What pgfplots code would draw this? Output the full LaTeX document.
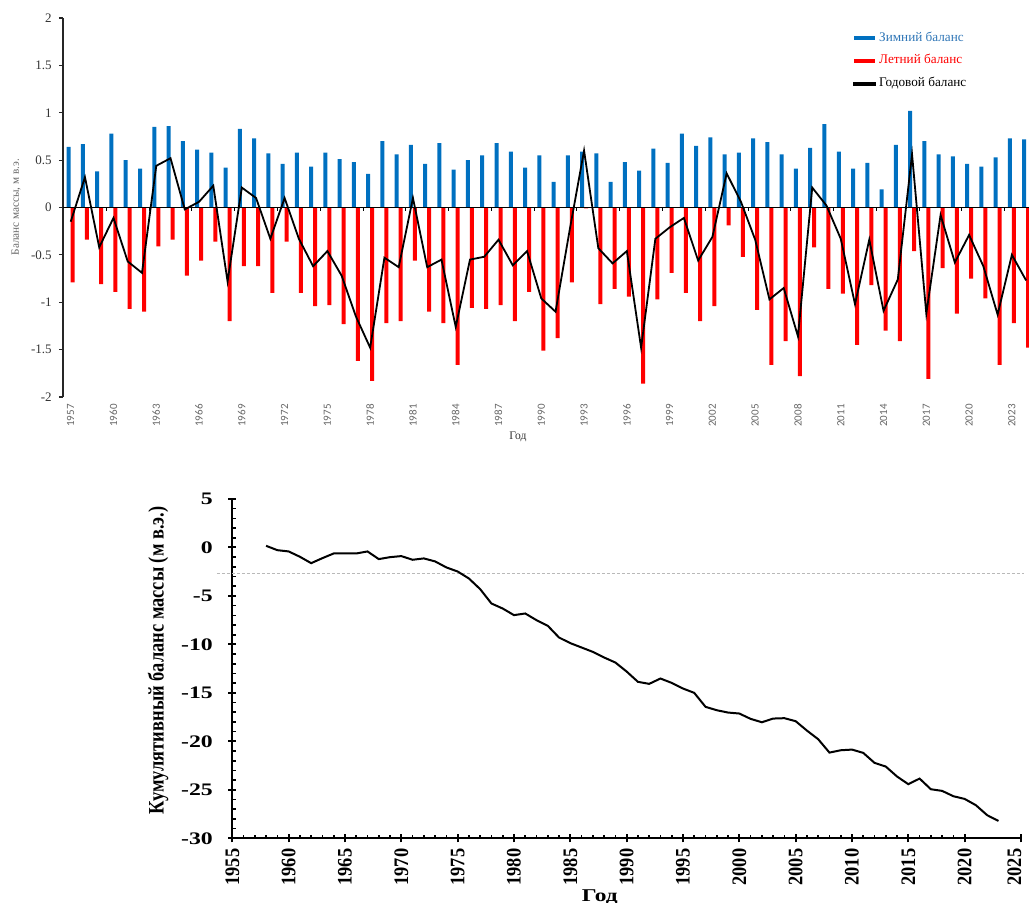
\documentclass[border=0pt]{standalone}
\usepackage{pgfplots}
\pgfplotsset{compat=1.18}
\usepackage{pgfplotstable}
\usepackage{fontspec}
\setmainfont{Liberation Serif}
\newfontfamily\carlito{Carlito}
\definecolor{wblue}{RGB}{0,112,192}
\definecolor{wbluet}{RGB}{46,117,182}
\definecolor{sred}{RGB}{255,0,0}

\pgfplotstableread{
year winter summer annual
1957 0.64 -0.79 -0.15
1958 0.67 -0.34 0.32
1959 0.38 -0.81 -0.42
1960 0.78 -0.89 -0.11
1961 0.50 -1.07 -0.57
1962 0.41 -1.10 -0.69
1963 0.85 -0.41 0.44
1964 0.86 -0.34 0.52
1965 0.70 -0.72 -0.02
1966 0.61 -0.56 0.06
1967 0.58 -0.36 0.23
1968 0.42 -1.20 -0.78
1969 0.83 -0.62 0.21
1970 0.73 -0.62 0.10
1971 0.57 -0.90 -0.33
1972 0.46 -0.36 0.10
1973 0.58 -0.90 -0.33
1974 0.43 -1.04 -0.62
1975 0.58 -1.03 -0.46
1976 0.51 -1.23 -0.72
1977 0.48 -1.62 -1.15
1978 0.355 -1.83 -1.48
1979 0.70 -1.22 -0.53
1980 0.56 -1.20 -0.63
1981 0.66 -0.56 0.10
1982 0.46 -1.10 -0.63
1983 0.68 -1.22 -0.55
1984 0.40 -1.66 -1.26
1985 0.50 -1.06 -0.55
1986 0.55 -1.07 -0.52
1987 0.68 -1.03 -0.34
1988 0.59 -1.20 -0.61
1989 0.42 -0.89 -0.46
1990 0.55 -1.51 -0.96
1991 0.27 -1.38 -1.10
1992 0.55 -0.79 -0.23
1993 0.59 -0.01 0.60
1994 0.57 -1.02 -0.43
1995 0.27 -0.86 -0.59
1996 0.48 -0.94 -0.46
1997 0.39 -1.86 -1.48
1998 0.62 -0.97 -0.33
1999 0.47 -0.69 -0.21
2000 0.78 -0.90 -0.11
2001 0.65 -1.20 -0.56
2002 0.74 -1.04 -0.31
2003 0.56 -0.19 0.36
2004 0.58 -0.52 0.06
2005 0.73 -1.08 -0.34
2006 0.69 -1.66 -0.97
2007 0.56 -1.41 -0.85
2008 0.41 -1.78 -1.36
2009 0.63 -0.42 0.21
2010 0.88 -0.86 0.02
2011 0.59 -0.91 -0.33
2012 0.41 -1.45 -1.02
2013 0.47 -0.82 -0.34
2014 0.19 -1.30 -1.09
2015 0.66 -1.41 -0.76
2016 1.02 -0.46 0.56
2017 0.70 -1.81 -1.12
2018 0.56 -0.64 -0.08
2019 0.54 -1.12 -0.58
2020 0.46 -0.75 -0.29
2021 0.43 -0.96 -0.62
2022 0.53 -1.66 -1.13
2023 0.73 -1.22 -0.50
2024 0.72 -1.48 -0.77
}\balance

\pgfplotstableread{
year cum
1958 0.17
1959 -0.28
1960 -0.41
1961 -0.96
1962 -1.62
1963 -1.10
1964 -0.62
1965 -0.62
1966 -0.62
1967 -0.41
1968 -1.20
1969 -1.00
1970 -0.89
1971 -1.27
1972 -1.13
1973 -1.44
1974 -2.06
1975 -2.48
1976 -3.20
1977 -4.30
1978 -5.78
1979 -6.30
1980 -6.98
1981 -6.81
1982 -7.50
1983 -8.08
1984 -9.29
1985 -9.87
1986 -10.32
1987 -10.77
1988 -11.35
1989 -11.87
1990 -12.80
1991 -13.86
1992 -14.07
1993 -13.52
1994 -13.97
1995 -14.55
1996 -15.00
1997 -16.44
1998 -16.79
1999 -17.03
2000 -17.13
2001 -17.68
2002 -18.03
2003 -17.65
2004 -17.61
2005 -17.92
2006 -18.89
2007 -19.78
2008 -21.16
2009 -20.92
2010 -20.85
2011 -21.19
2012 -22.22
2013 -22.60
2014 -23.63
2015 -24.42
2016 -23.84
2017 -24.94
2018 -25.11
2019 -25.66
2020 -25.94
2021 -26.59
2022 -27.62
2023 -28.21
}\cumul

\begin{document}
\begin{tikzpicture}
\useasboundingbox (0,0) rectangle (514.5pt,451.5pt);
% ---------- top panel ----------
\begin{axis}[
  at={(31.5pt,253pt)}, anchor=south west,
  scale only axis, width=483pt, height=189.5pt,
  xmin=1956.46, xmax=2024.2, ymin=-2, ymax=2,
  axis x line=bottom, axis y line=left,
  axis line style={-},
  x axis line style={draw=none},
  y axis line style={line width=0.9pt, black!85},
  xtick={1957,1960,...,2023},
  xtick style={draw=none},
  ytick={-2,-1.5,-1,-0.5,0,0.5,1,1.5,2},
  ytick style={line width=0.6pt, black!85},
  tick align=outside, major tick length=2pt,
  /pgf/number format/assume math mode=true,
  /pgf/number format/1000 sep={},
  xticklabel style={yshift=-1.5pt, rotate=90, anchor=east, inner sep=0pt,
    font=\carlito\fontsize{5.5pt}{6pt}\selectfont, text=black!60},
  yticklabel style={inner sep=0pt, xshift=-3.5pt,
    font=\fontsize{6.5pt}{7pt}\selectfont, text=black!80},
  ylabel={Баланс массы, м в.э.},
  ylabel style={at={(axis description cs:-0.0487,0.501)}, anchor=center,
    font=\fontsize{5.6pt}{6pt}\selectfont, text=black!60},
  xlabel={Год},
  xlabel style={at={(axis description cs:0.471,-0.1055)}, anchor=center,
    font=\fontsize{5.8pt}{6pt}\selectfont, text=black!80},
  legend style={draw=none, fill=none, at={(0.8178,0.965)}, anchor=north west,
    inner sep=0pt, row sep=5.2pt,
    font=\fontsize{6.6pt}{7pt}\selectfont,
    nodes={inner xsep=1.5pt, inner ysep=0pt}},
  legend cell align=left,
]
\addplot[ybar, bar width=2pt, bar shift=-1pt, fill=wblue, draw=none,
  legend image code/.code={\fill[wblue] (0pt,-1pt) rectangle (10.5pt,1pt);}]
  table[x=year, y=winter] {\balance};
\addlegendentry{\textcolor{wbluet}{Зимний баланс}}
\addplot[ybar, bar width=2pt, bar shift=1pt, fill=sred, draw=none,
  legend image code/.code={\fill[sred] (0pt,-1pt) rectangle (10.5pt,1pt);}]
  table[x=year, y=summer] {\balance};
\addlegendentry{\textcolor{sred}{Летний баланс}}
\addplot[black, line width=0.9pt, forget plot] coordinates {(1956.46,0) (2024.2,0)};
\addplot[ycomb, black, line width=0.5pt, no marks, forget plot] coordinates {
(1959.5,-0.035) (1962.5,-0.035) (1965.5,-0.035) (1968.5,-0.035) (1971.5,-0.035)
(1974.5,-0.035) (1977.5,-0.035) (1980.5,-0.035) (1983.5,-0.035) (1986.5,-0.035)
(1989.5,-0.035) (1992.5,-0.035) (1995.5,-0.035) (1998.5,-0.035) (2001.5,-0.035)
(2004.5,-0.035) (2007.5,-0.035) (2010.5,-0.035) (2013.5,-0.035) (2016.5,-0.035)
(2019.5,-0.035) (2022.5,-0.035)};
\addplot[black, line width=0.9pt, no marks,
  legend image code/.code={\fill[black] (0pt,-0.55pt) rectangle (10.5pt,0.55pt);}]
  table[x=year, y=annual] {\balance};
\addlegendentry{Годовой баланс}
\end{axis}
% ---------- bottom panel ----------
\begin{axis}[
  at={(116.15pt,32.35pt)}, anchor=south west,
  scale only axis, width=394.35pt, height=169.65pt,
  xmin=1955, xmax=2025, ymin=-30, ymax=5,
  clip=false,
  axis x line=bottom, axis y line=left,
  axis line style={-, line width=1.1pt, black},
  xtick={1955,1960,...,2020}, ytick distance=5,
  extra x ticks={2025},
  extra x tick style={xticklabel style={yshift=3pt}},
  minor x tick num=4, minor y tick num=4,
  tick align=inside, major tick length=4pt, minor tick length=1.6pt,
  major tick style={line width=1pt, black},
  minor tick style={line width=0.8pt, black},
  major x tick style={yshift=-2pt},
  major y tick style={xshift=-2pt},
  /pgf/number format/assume math mode=true,
  /pgf/number format/1000 sep={},
  xticklabel style={yshift=-5pt, xscale=1.12, rotate=90, anchor=east, inner sep=0pt,
    font=\bfseries\fontsize{9.2pt}{10pt}\selectfont},
  yticklabel style={inner sep=0pt, xshift=-9.5pt, anchor=east, xscale=1.35,
    font=\bfseries\fontsize{8.8pt}{10pt}\selectfont},
  ylabel={Кумулятивный баланс массы (м в.э.)},
  ylabel style={at={(axis description cs:-0.0942,0.524)}, anchor=center, yscale=1.2,
    font=\bfseries\fontsize{9.2pt}{10pt}\selectfont},
  xlabel={Год},
  xlabel style={at={(axis description cs:0.466,-0.1877)}, anchor=base, xscale=1.3,
    font=\bfseries\fontsize{9pt}{10pt}\selectfont},
]
\addplot[gray!55, line width=0.4pt, dash pattern=on 1.5pt off 1pt, forget plot]
  coordinates {(1953.64,-2.64) (2025.27,-2.64)};
\addplot[black, line width=1pt, no marks] table[x=year, y=cum] {\cumul};
\end{axis}
\end{tikzpicture}
\end{document}
